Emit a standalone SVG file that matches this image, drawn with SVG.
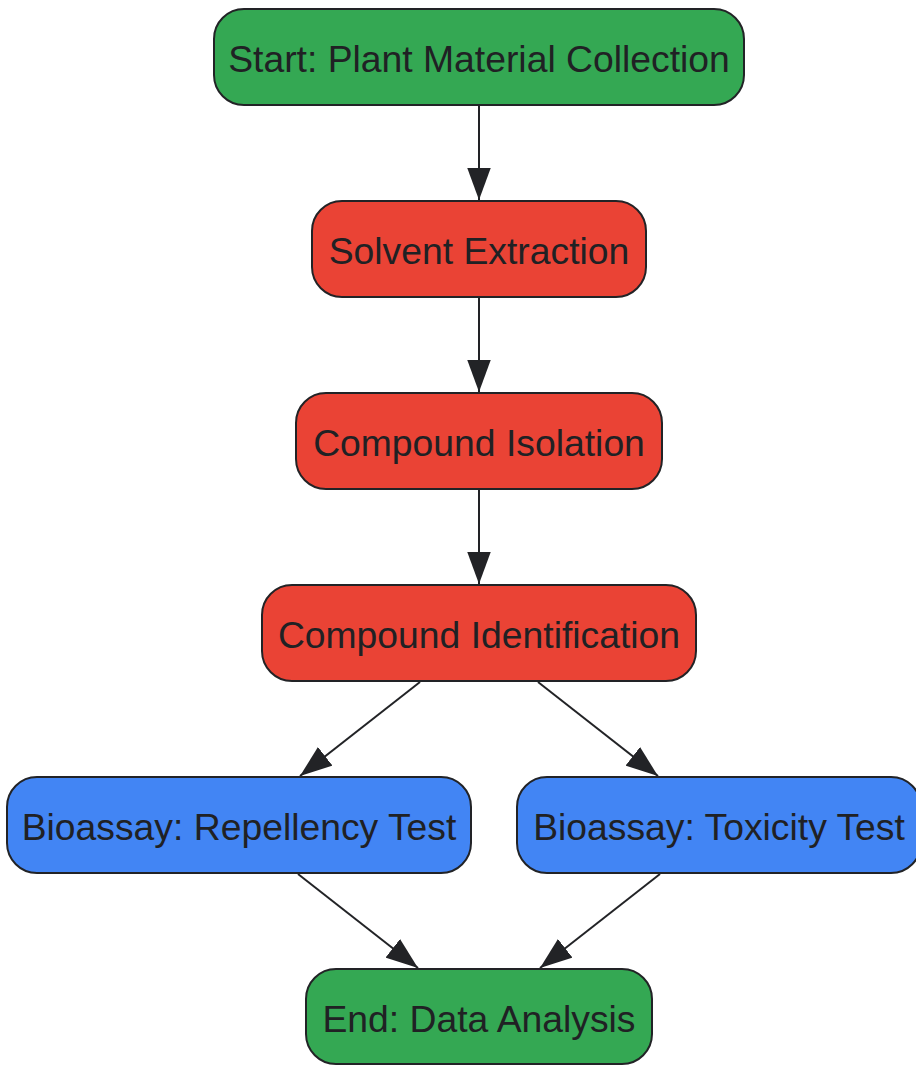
<svg xmlns="http://www.w3.org/2000/svg" width="916" height="1065" viewBox="0 0 916 1065">
<style>
.node rect{stroke:#222326;stroke-width:2}
.green rect{fill:#34A853}
.red rect{fill:#EA4335}
.blue rect{fill:#4285F4}
.node text{font-family:"Liberation Sans",Arial,sans-serif;font-size:37.3px;fill:#202124;text-anchor:middle}
.edges line{stroke:#222326;stroke-width:2;fill:none}
</style>
<defs>
<marker id="arrow" markerUnits="userSpaceOnUse" markerWidth="32" markerHeight="24" viewBox="0 0 30 22" refX="30" refY="11" orient="auto">
<path d="M0,0 L30,11 L0,22 z" fill="#222326"/>
</marker>
</defs>
<g class="edges">
<line x1="479" y1="105" x2="479" y2="200" marker-end="url(#arrow)"/>
<line x1="479" y1="297" x2="479" y2="392" marker-end="url(#arrow)"/>
<line x1="479" y1="489" x2="479" y2="584" marker-end="url(#arrow)"/>
<line x1="420" y1="682" x2="300" y2="776" marker-end="url(#arrow)"/>
<line x1="538" y1="682" x2="658" y2="776" marker-end="url(#arrow)"/>
<line x1="298" y1="874" x2="418" y2="968" marker-end="url(#arrow)"/>
<line x1="660" y1="874" x2="540" y2="968" marker-end="url(#arrow)"/>
</g>
<g id="start" class="node green">
<rect x="214" y="9" width="530" height="96" rx="30" ry="30"/>
<text x="479" y="72">Start: Plant Material Collection</text>
</g>
<g id="solvent" class="node red">
<rect x="312" y="201" width="334" height="96" rx="30" ry="30"/>
<text x="479" y="264">Solvent Extraction</text>
</g>
<g id="isolation" class="node red">
<rect x="296" y="393" width="366" height="96" rx="30" ry="30"/>
<text x="479" y="456">Compound Isolation</text>
</g>
<g id="identification" class="node red">
<rect x="262" y="585" width="434" height="96" rx="30" ry="30"/>
<text x="479" y="648">Compound Identification</text>
</g>
<g id="repellency" class="node blue">
<rect x="7" y="777" width="464" height="96" rx="30" ry="30"/>
<text x="239" y="840">Bioassay: Repellency Test</text>
</g>
<g id="toxicity" class="node blue">
<rect x="517" y="777" width="404" height="96" rx="30" ry="30"/>
<text x="719" y="840">Bioassay: Toxicity Test</text>
</g>
<g id="end" class="node green">
<rect x="306" y="969" width="346" height="95" rx="30" ry="30"/>
<text x="479" y="1032">End: Data Analysis</text>
</g>
</svg>
